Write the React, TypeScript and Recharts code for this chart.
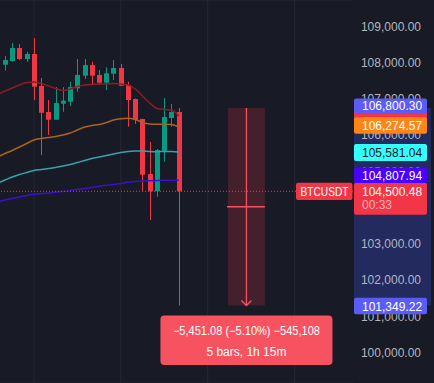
import React from "react";
import {
  ComposedChart,
  Bar,
  Line,
  XAxis,
  YAxis,
  CartesianGrid,
  ReferenceLine,
  ReferenceArea,
} from "recharts";

// colours
const BG = "#181b26";
const GRID = "#252935";
const UP = "#089981";
const DOWN = "#f23645";
const AXIS_TEXT = "#b2b5be";

// candles (15m bars)
const barIndex = [1, 2, 3, 4, 5, 6, 7, 8, 9, 10, 11, 12, 13, 14, 15, 16, 17, 18, 19, 20, 21, 22, 23, 24, 25];
const opens = [107992, 108094, 108452, 108149, 108287, 107404, 106687, 106475, 106916, 106971, 107341, 107688, 107983, 107708, 107495, 107743, 107901, 107432, 107046, 106494, 104977, 104500, 105592, 106522, 106687];
const highs = [108231, 108590, 108562, 108350, 108728, 107625, 107018, 107377, 107377, 107523, 108149, 108149, 108074, 107845, 107920, 108121, 108011, 107523, 107060, 106500, 105860, 105667, 107073, 106908, 106800.3];
const lows = [107826, 108074, 108121, 108074, 107018, 105501, 106053, 106475, 106695, 106853, 107247, 107597, 107459, 107432, 107294, 107570, 107400, 106282, 106356, 104490, 103708, 104351, 105316, 106282, 101349.22];
const closes = [108121, 108452, 108149, 108287, 107385, 106668, 106475, 106935, 106999, 107377, 107708, 107983, 107688, 107495, 107754, 107901, 107412, 107018, 106466, 104958, 104500, 105639, 106549, 106687, 104500.48];

// moving averages (index 0 is the bar just off the left edge)
const maIndex = [0, 1, 2, 3, 4, 5, 6, 7, 8, 9, 10, 11, 12, 13, 14, 15, 16, 17, 18, 19, 20, 21, 22, 23, 24, 25];
const maRed = [107170, 107266, 107349, 107432, 107501, 107514, 107473, 107404, 107335, 107280, 107321, 107390, 107432, 107446, 107459, 107459, 107473, 107459, 107432, 107321, 107128, 106935, 106784, 106756, 106742, 106577];
const maOrange = [105446, 105543, 105625, 105722, 105818, 105915, 105956, 105984, 106011, 106053, 106108, 106191, 106273, 106315, 106342, 106398, 106466, 106500, 106513, 106480, 106398, 106356, 106348, 106348, 106342, 106274.57];
const maCyan = [104729, 104812, 104894, 104963, 105019, 105074, 105101, 105129, 105156, 105198, 105239, 105294, 105349, 105405, 105446, 105487, 105529, 105570, 105598, 105611, 105611, 105598, 105592, 105598, 105598, 105581.04];
const maPurple = [104205, 104260, 104301, 104343, 104384, 104417, 104439, 104453, 104472, 104494, 104522, 104550, 104577, 104605, 104638, 104665, 104688, 104715, 104748, 104770, 104784, 104792, 104798, 104803, 104806, 104807.94];

const priceTicks = [100000, 101000, 102000, 103000, 104000, 105000, 106000, 107000, 108000, 109000];
const timeTicks = [5, 17, 29, 41];
const xDomain = [0.31, 49.07];
const yDomain = [99214, 109776];
const lastPrice = 104500.48;
const countdown = "00:33";
const symbol = "BTCUSDT";
const measureFrom = 106800.3;
const measureTo = 101349.22;
const measureBars = [31.8, 36.9];
const measureLine1 = "\u22125,451.08 (\u22125.10%) \u2212545,108";
const measureLine2 = "5 bars, 1h 15m";

const candles = barIndex.map((i, k) => ({
  i,
  open: opens[k],
  high: highs[k],
  low: lows[k],
  close: closes[k],
  range: [lows[k], highs[k]],
}));

const maRows = maIndex.map((i, k) => ({
  i,
  red: maRed[k],
  orange: maOrange[k],
  cyan: maCyan[k],
  purple: maPurple[k],
}));

const last = (a: number[]) => a[a.length - 1];

const fmt = (v: number) =>
  v.toLocaleString("en-US", { minimumFractionDigits: 2, maximumFractionDigits: 2 });

const Candle = (props: any) => {
  const { x, y, width, height, payload } = props;
  if (payload == null || payload.open == null) return <g />;
  const { open, close, high, low } = payload;
  const color = close >= open ? UP : DOWN;
  const k = height / (high - low);
  const top = y + (high - Math.max(open, close)) * k;
  const bot = y + (high - Math.min(open, close)) * k;
  const cx = Math.round(x + width / 2) + 0.5;
  return (
    <g>
      <line x1={cx} x2={cx} y1={y} y2={y + height} stroke={color} strokeWidth={1} />
      <rect x={cx - 2.5} y={top} width={5} height={Math.max(1, bot - top)} fill={color} />
    </g>
  );
};

// price scale text, drawn as labels so the tags can sit on top of it
const tickText = (value: number) => (props: any) => {
  const vb = props.viewBox;
  return (
    <text x={vb.x + vb.width + 68} y={vb.y + 2.5} textAnchor="end" fill={AXIS_TEXT} fontSize={12}>
      {fmt(value)}
    </text>
  );
};

// coloured price tag on the right scale
const tag = (bg: string, fg: string, value: number | null, shift = 0, h = 16) => (props: any) => {
  const vb = props.viewBox;
  const x = vb.x + vb.width + 1;
  const cy = vb.y + shift;
  return (
    <g>
      <rect x={x} y={cy - h / 2} width={73} height={h} rx={2} fill={bg} />
      {value != null && (
        <text x={x + 8} y={cy + 4.5} fill={fg} fontSize={12}>
          {fmt(value)}
        </text>
      )}
    </g>
  );
};

const lastTag = (props: any) => {
  const vb = props.viewBox;
  const x = vb.x + vb.width;
  const cy = vb.y;
  return (
    <g>
      <rect x={x - 57} y={cy - 8.6} width={56.5} height={17.3} rx={2} fill={DOWN} />
      <text
        x={x - 52.5}
        y={cy + 4.3}
        fill="#fff"
        fontSize={12}
        textLength={48}
        lengthAdjust="spacingAndGlyphs"
      >
        {symbol}
      </text>
      <rect x={x + 1} y={cy - 8.6} width={73} height={32} rx={2} fill={DOWN} />
      <text x={x + 9} y={cy + 4.3} fill="#fff" fontSize={12}>
        {fmt(lastPrice)}
      </text>
      <text x={x + 9} y={cy + 17.5} fill="#f7b3b9" fontSize={12}>
        {countdown}
      </text>
    </g>
  );
};

// arrow and midline inside the measured box
const measureMarks = (props: any) => {
  const vb = props.viewBox;
  const cx = vb.x + vb.width / 2;
  const bottom = vb.y + vb.height;
  const mid = vb.y + vb.height / 2;
  return (
    <g>
      <line x1={cx} x2={cx} y1={vb.y} y2={bottom} stroke="#f7525f" strokeWidth={1.3} />
      <line x1={vb.x - 1} x2={vb.x + vb.width} y1={mid} y2={mid} stroke="#f7525f" strokeWidth={1.3} />
      <path
        d={`M${cx - 5},${bottom - 5} L${cx},${bottom} L${cx + 5},${bottom - 5}`}
        stroke="#f7525f"
        strokeWidth={1.3}
        fill="none"
      />
    </g>
  );
};

// result box under the measured range
const measureBox = (props: any) => {
  const vb = props.viewBox;
  const cx = vb.x + vb.width / 2;
  const boxTop = vb.y + 10;
  return (
    <g>
      <rect x={cx - 86} y={boxTop} width={172} height={49.5} rx={4} fill="#f7525f" />
      <text
        x={cx}
        y={boxTop + 19.5}
        textAnchor="middle"
        fill="#fff"
        fontSize={12}
        textLength={147}
        lengthAdjust="spacingAndGlyphs"
      >
        {measureLine1}
      </text>
      <text x={cx} y={boxTop + 40} textAnchor="middle" fill="#fff" fontSize={12}>
        {measureLine2}
      </text>
    </g>
  );
};

export default function App() {
  return (
    <div
      style={{
        position: "fixed",
        left: 0,
        top: 0,
        width: 434,
        height: 383,
        background: BG,
        fontFamily: "'Liberation Sans', Arial, sans-serif",
      }}
    >
      <ComposedChart
        width={434}
        height={383}
        data={candles}
        margin={{ top: 0, right: 0, bottom: 0, left: 0 }}
      >
        <CartesianGrid stroke={GRID} strokeWidth={1} vertical={false} />
        <XAxis
          dataKey="i"
          type="number"
          domain={xDomain}
          allowDataOverflow
          ticks={timeTicks}
          height={0}
          tick={false}
          axisLine={false}
          tickLine={false}
        />
        <YAxis
          orientation="right"
          width={81}
          domain={yDomain}
          allowDataOverflow
          ticks={priceTicks}
          interval={0}
          axisLine={false}
          tickLine={false}
          tick={false}
        />
        {/* time grid */}
        {timeTicks.map((t) => (
          <ReferenceLine key={`t${t}`} x={t} stroke={GRID} strokeWidth={1} zIndex={-100} />
        ))}
        {/* measured range highlighted on the price scale */}
        <ReferenceArea
          x1={49.2}
          x2={59.85}
          y1={measureFrom}
          y2={measureTo}
          ifOverflow="visible"
          fill="#232a5e"
          fillOpacity={1}
          stroke="none"
        />
        <ReferenceArea
          x1={measureBars[0]}
          x2={measureBars[1]}
          y1={measureFrom}
          y2={measureTo}
          fill={DOWN}
          fillOpacity={0.2}
          stroke="none"
          label={{ content: measureMarks }}
        />
        <Bar dataKey="range" barSize={5} shape={<Candle />} isAnimationActive={false} />
        <Line data={maRows} dataKey="red" type="monotone" stroke="#8e1c22" strokeWidth={1.5} dot={false} activeDot={false} isAnimationActive={false} />
        <Line data={maRows} dataKey="orange" type="monotone" stroke="#a8641f" strokeWidth={1.5} dot={false} activeDot={false} isAnimationActive={false} />
        <Line data={maRows} dataKey="cyan" type="monotone" stroke="#35a3a8" strokeWidth={1.5} dot={false} activeDot={false} isAnimationActive={false} />
        <Line data={maRows} dataKey="purple" type="monotone" stroke="#3a0fcf" strokeWidth={1.5} dot={false} activeDot={false} isAnimationActive={false} />
        {priceTicks.map((p) => (
          <ReferenceLine key={p} y={p} stroke="none" label={{ content: tickText(p) }} />
        ))}
        <ReferenceLine
          y={lastPrice}
          stroke={DOWN}
          strokeDasharray="1 2"
          label={{ content: lastTag }}
        />
        <ReferenceLine y={last(maRed)} stroke="none" label={{ content: tag(DOWN, "#fff", null, 0, 16) }} />
        <ReferenceLine y={measureFrom} stroke="none" label={{ content: tag("#5b5cf6", "#fff", measureFrom, -2, 15) }} />
        <ReferenceLine y={last(maOrange)} stroke="none" label={{ content: tag("#ff8517", "#fff", last(maOrange), -1.5, 16.5) }} />
        <ReferenceLine y={last(maCyan)} stroke="none" label={{ content: tag("#33ffff", "#131722", last(maCyan), 0.5, 17) }} />
        <ReferenceLine y={last(maPurple)} stroke="none" label={{ content: tag("#4800ff", "#fff", last(maPurple), -5, 15.5) }} />
        <ReferenceLine y={measureTo} stroke="none" label={{ content: tag("#5b5cf6", "#fff", measureTo, 0.5, 16.5) }} />
        <ReferenceLine
          segment={[
            { x: measureBars[0], y: measureTo },
            { x: measureBars[1], y: measureTo },
          ]}
          stroke="none"
          label={{ content: measureBox }}
        />
      </ComposedChart>
    </div>
  );
}
